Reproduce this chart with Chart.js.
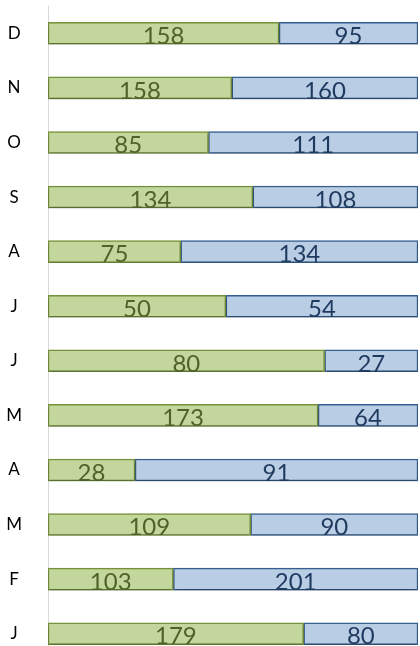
<!DOCTYPE html>
<html>
<head>
<meta charset="utf-8">
<script src="https://cdn.jsdelivr.net/npm/chart.js@4"></script>
<style>
  html, body { margin: 0; padding: 0; background: #fff; overflow: hidden; }
  #wrap { position: relative; width: 420px; height: 661px; }
</style>
</head>
<body>
<div id="wrap"><canvas id="chart"></canvas></div>
<script>
const months = ['J', 'F', 'M', 'A', 'M', 'J', 'J', 'A', 'S', 'O', 'N', 'D']
const greenValues = [179, 103, 109, 28, 173, 80, 50, 75, 134, 85, 158, 158]
const blueValues = [80, 201, 90, 91, 64, 27, 54, 134, 108, 111, 160, 95]

// share of each row, so the bars fill 100%
function shares(values, other) {
    return values.map((v, i) => v / (v + other[i]) * 100)
}

const valueLabels = {
    id: 'valueLabels',
    afterDatasetsDraw(chart) {
        const ctx = chart.ctx
        ctx.save()
        ctx.font = '24px Lato'
        ctx.textAlign = 'center'
        ctx.textBaseline = 'middle'
        chart.data.datasets.forEach((ds, di) => {
            const meta = chart.getDatasetMeta(di)
            meta.data.forEach((bar, i) => {
                const x = (bar.base + bar.x) / 2
                ctx.fillStyle = ds.textColor
                ctx.fillText(ds.raw[i], x, bar.y + 3)
            })
        })
        ctx.restore()
    }
}

const barShadow = {
    id: 'barShadow',
    beforeDatasetsDraw(chart) {
        const ctx = chart.ctx
        ctx.save()
        ctx.shadowColor = 'rgba(0,0,0,0.3)'
        ctx.shadowBlur = 3
        ctx.shadowOffsetY = 2
    },
    afterDatasetsDraw(chart) {
        chart.ctx.restore()
    }
}

new Chart(document.getElementById('chart'), {
    type: 'bar',
    data: {
        labels: months,
        datasets: [{
            data: shares(greenValues, blueValues),
            raw: greenValues,
            textColor: '#4f6228',
            backgroundColor: '#c3d69b',
            borderColor: '#77933c',
            borderWidth: 1.5,
            borderSkipped: false,
            barThickness: 22
        }, {
            data: shares(blueValues, greenValues),
            raw: blueValues,
            textColor: '#1f3a5f',
            backgroundColor: '#b9cde5',
            borderColor: '#376092',
            borderWidth: 1.5,
            borderSkipped: false,
            barThickness: 22
        }]
    },
    options: {
        indexAxis: 'y',
        responsive: true,
        maintainAspectRatio: false,
        animation: false,
        layout: { padding: { top: 6, right: 2, bottom: 0, left: 0 } },
        plugins: {
            legend: { display: false },
            tooltip: { enabled: false }
        },
        scales: {
            x: {
                stacked: true,
                display: false,
                min: 0,
                max: 100
            },
            y: {
                stacked: true,
                reverse: true,
                grid: { display: false },
                border: { display: true, color: '#d9d9d9', width: 1 },
                ticks: {
                    color: '#000',
                    font: { family: 'Lato', size: 17 },
                    padding: 18,
                    crossAlign: 'center'
                },
                afterFit(scale) {
                    scale.width = 48
                    scale.paddingTop = 0
                    scale.paddingBottom = 0
                }
            }
        }
    },
    plugins: [barShadow, valueLabels]
})
</script>
</body>
</html>
